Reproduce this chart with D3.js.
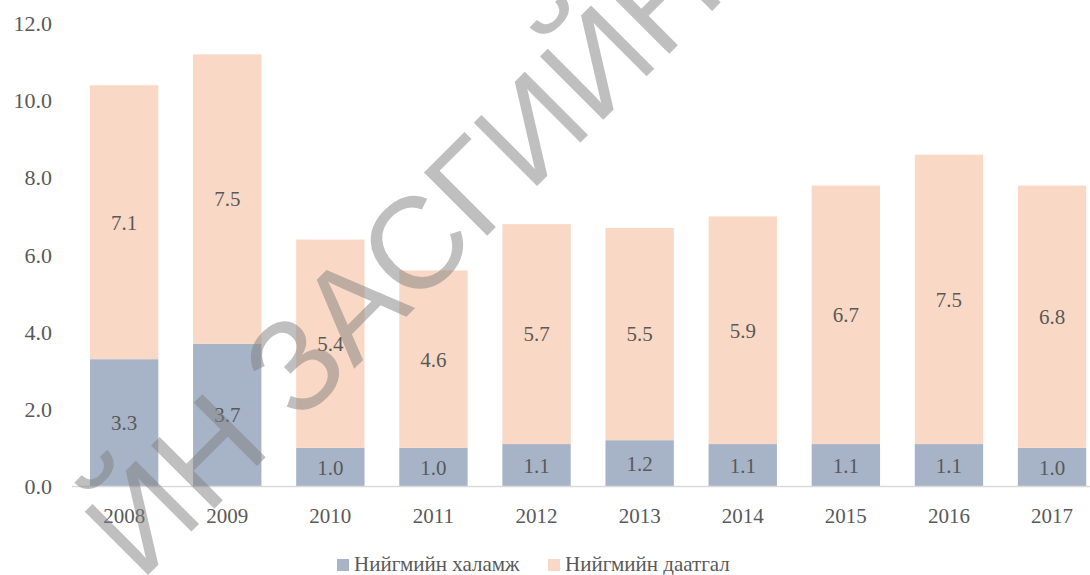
<!DOCTYPE html>
<html>
<head>
<meta charset="utf-8">
<script src="https://cdn.jsdelivr.net/npm/d3@7"></script>
<style>
  html, body { margin: 0; padding: 0; background: #fff; }
  svg { display: block; }
  text { font-family: "Liberation Serif", "Times New Roman", serif; }
</style>
</head>
<body>
<svg id="chart" width="1090" height="575"></svg>
<script>
// Years on the x axis
const years = ["2008", "2009", "2010", "2011", "2012", "2013", "2014", "2015", "2016", "2017"];
// Social welfare (lower segment)
const welfare = [3.3, 3.7, 1.0, 1.0, 1.1, 1.2, 1.1, 1.1, 1.1, 1.0];
// Social insurance (upper segment)
const insurance = [7.1, 7.5, 5.4, 4.6, 5.7, 5.5, 5.9, 6.7, 7.5, 6.8];
// Series names
const seriesNames = ["Нийгмийн халамж", "Нийгмийн даатгал"];
// Y axis ticks
const yTicks = [0, 2, 4, 6, 8, 10, 12];
const watermarkText = "ЙН ЗАСГИЙН";

const colors = ["#a7b4c8", "#f9d9c5"];
const textColor = "#595959";
const serif = '"Liberation Serif", "Times New Roman", serif';

const svg = d3.select("#chart");

const x = d3.scaleBand()
  .domain(years)
  .range([72.6, 1103.6])
  .paddingInner(0.337)
  .paddingOuter(0.1685);

const y = d3.scaleLinear()
  .domain([0, 12])
  .range([486.5, 23.5]);

const rows = years.map((yr, i) => ({ year: yr, welfare: welfare[i], insurance: insurance[i] }));
const stacked = d3.stack().keys(["welfare", "insurance"])(rows);

// Y axis labels (no line, no ticks)
const yAxis = d3.axisLeft(y)
  .tickValues(yTicks)
  .tickFormat(d3.format(".1f"))
  .tickSize(0)
  .tickPadding(0);
const gy = svg.append("g")
  .attr("transform", "translate(52,0)")
  .call(yAxis)
  .attr("font-family", serif);
gy.select(".domain").remove();
gy.selectAll("text")
  .attr("font-size", 22)
  .attr("fill", textColor);

// Stacked bars
const layers = svg.append("g").selectAll("g")
  .data(stacked)
  .join("g")
  .attr("fill", (d, i) => colors[i]);

layers.selectAll("rect")
  .data(d => d)
  .join("rect")
  .attr("x", d => x(d.data.year))
  .attr("width", x.bandwidth())
  .attr("y", d => y(d[1]))
  .attr("height", d => y(d[0]) - y(d[1]));

// Segment value labels
const labels = svg.append("g");
stacked.forEach(layer => {
  labels.selectAll(null)
    .data(layer)
    .join("text")
    .attr("x", d => x(d.data.year) + x.bandwidth() / 2)
    .attr("y", d => (y(d[0]) + y(d[1])) / 2)
    .attr("dy", "0.35em")
    .attr("text-anchor", "middle")
    .attr("font-size", 21)
    .attr("fill", textColor)
    .text(d => d3.format(".1f")(d[1] - d[0]));
});

// X axis baseline and year labels
const xAxis = d3.axisBottom(x).tickSize(0).tickPadding(0);
const gx = svg.append("g")
  .attr("transform", `translate(0,${y(0)})`)
  .call(xAxis)
  .attr("font-family", serif);
gx.select(".domain").remove();
gx.selectAll("text")
  .attr("y", 36)
  .attr("dy", 0)
  .attr("font-size", 21)
  .attr("fill", textColor);
svg.append("line")
  .attr("x1", 72).attr("x2", 1090)
  .attr("y1", y(0)).attr("y2", y(0))
  .attr("stroke", "#d9d9d9")
  .attr("stroke-width", 1.5);

// Legend
const legendItems = [
  { name: seriesNames[0], color: colors[0], x: 337 },
  { name: seriesNames[1], color: colors[1], x: 548 }
];
const legend = svg.append("g");
legendItems.forEach(item => {
  legend.append("rect")
    .attr("x", item.x).attr("y", 559)
    .attr("width", 12).attr("height", 12)
    .attr("fill", item.color);
  legend.append("text")
    .attr("x", item.x + 17).attr("y", 571)
    .attr("font-size", 21)
    .attr("fill", textColor)
    .text(item.name);
});

// Diagonal watermark
svg.append("text")
  .attr("transform", "translate(140.6,582.4) rotate(-45)")
  .attr("font-size", 130)
  .style("font-family", '"Liberation Sans", Arial, sans-serif')
  .attr("fill", "rgba(128,128,128,0.5)")
  .attr("pointer-events", "none")
  .text(watermarkText);
</script>
</body>
</html>
